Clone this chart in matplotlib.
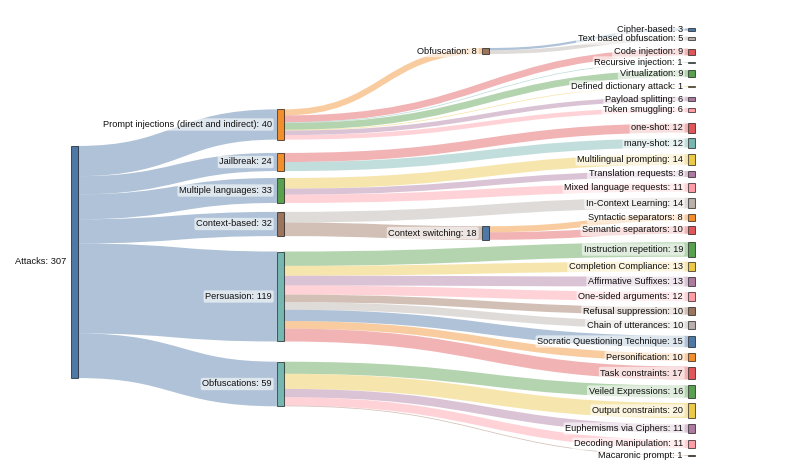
import numpy as np
import matplotlib.pyplot as plt
from matplotlib.path import Path
from matplotlib.patches import PathPatch, Rectangle

plt.rcParams['font.family'] = ['Liberation Sans', 'DejaVu Sans']

# links of the sankey: source, target, value
link_src = (["Attacks"] * 6
            + ["Prompt injections (direct and indirect)"] * 7
            + ["Obfuscation"] * 2
            + ["Jailbreak"] * 2
            + ["Multiple languages"] * 3
            + ["Context-based"] * 2
            + ["Context switching"] * 2
            + ["Persuasion"] * 9
            + ["Obfuscations"] * 5)
link_tgt = ["Prompt injections (direct and indirect)", "Jailbreak", "Multiple languages",
            "Context-based", "Persuasion", "Obfuscations",
            "Obfuscation", "Code injection", "Recursive injection", "Virtualization",
            "Defined dictionary attack", "Payload splitting", "Token smuggling",
            "Cipher-based", "Text based obfuscation",
            "one-shot", "many-shot",
            "Multilingual prompting", "Translation requests", "Mixed language requests",
            "In-Context Learning", "Context switching",
            "Syntactic separators", "Semantic separators",
            "Instruction repetition", "Completion Compliance", "Affirmative Suffixes",
            "One-sided arguments", "Refusal suppression", "Chain of utterances",
            "Socratic Questioning Technique", "Personification", "Task constraints",
            "Veiled Expressions", "Output constraints", "Euphemisms via Ciphers",
            "Decoding Manipulation", "Macaronic prompt"]
link_val = [40, 24, 33, 32, 119, 59,
            8, 9, 1, 9, 1, 6, 6,
            3, 5,
            12, 12,
            14, 8, 11,
            14, 18,
            8, 10,
            19, 13, 13, 12, 10, 10, 15, 10, 17,
            16, 20, 11, 11, 1]

# tableau colours
blue, orange, red, teal, green = '#4e79a7', '#f28e2c', '#e15759', '#76b7b2', '#59a14f'
yellow, purple, pink, brown, grey = '#edc949', '#af7aa1', '#ff9da7', '#9c755f', '#bab0ab'

node_color = {
    "Attacks": blue,
    "Prompt injections (direct and indirect)": orange, "Jailbreak": orange,
    "Multiple languages": green, "Context-based": brown, "Persuasion": teal,
    "Obfuscations": teal, "Obfuscation": brown, "Context switching": blue,
    "Cipher-based": blue, "Text based obfuscation": grey, "Code injection": red,
    "Recursive injection": teal, "Virtualization": green,
    "Defined dictionary attack": yellow, "Payload splitting": purple,
    "Token smuggling": pink, "one-shot": red, "many-shot": teal,
    "Multilingual prompting": yellow, "Translation requests": purple,
    "Mixed language requests": pink, "In-Context Learning": grey,
    "Syntactic separators": orange, "Semantic separators": red,
    "Instruction repetition": green, "Completion Compliance": yellow,
    "Affirmative Suffixes": purple, "One-sided arguments": pink,
    "Refusal suppression": brown, "Chain of utterances": grey,
    "Socratic Questioning Technique": blue, "Personification": orange,
    "Task constraints": red, "Veiled Expressions": green,
    "Output constraints": yellow, "Euphemisms via Ciphers": purple,
    "Decoding Manipulation": pink, "Macaronic prompt": brown,
}

# layout: vertical centre of each node in pixels (as placed by the original layout)
node_center = {
    "Attacks": 262,
    "Prompt injections (direct and indirect)": 124.5, "Jailbreak": 162,
    "Multiple languages": 190.5, "Context-based": 224, "Persuasion": 296.5,
    "Obfuscations": 384,
    "Obfuscation": 51, "Context switching": 233,
    "Cipher-based": 29.5, "Text based obfuscation": 38.5, "Code injection": 52,
    "Recursive injection": 62.5, "Virtualization": 73.5,
    "Defined dictionary attack": 86.5, "Payload splitting": 99,
    "Token smuggling": 110, "one-shot": 128, "many-shot": 143,
    "Multilingual prompting": 159.5, "Translation requests": 174,
    "Mixed language requests": 187.5, "In-Context Learning": 203,
    "Syntactic separators": 217.5, "Semantic separators": 230,
    "Instruction repetition": 249.5, "Completion Compliance": 266.5,
    "Affirmative Suffixes": 281.5, "One-sided arguments": 296.5,
    "Refusal suppression": 311, "Chain of utterances": 325,
    "Socratic Questioning Technique": 341.5, "Personification": 357,
    "Task constraints": 373, "Veiled Expressions": 391.5,
    "Output constraints": 410.5, "Euphemisms via Ciphers": 428.5,
    "Decoding Manipulation": 444, "Macaronic prompt": 455.5,
}

col_x = [71, 277, 482, 688]
node_w = 6.5
ky = 0.756

# node values and columns
names = list(node_center.keys())
val_in = {n: 0 for n in names}
val_out = {n: 0 for n in names}
for s, t, v in zip(link_src, link_tgt, link_val):
    val_out[s] += v
    val_in[t] += v
value = {n: max(val_in[n], val_out[n]) for n in names}

depth = {"Attacks": 0}
changed = True
while changed:
    changed = False
    for s, t in zip(link_src, link_tgt):
        if s in depth and depth.get(t, -1) < depth[s] + 1:
            depth[t] = depth[s] + 1
            changed = True
column = {n: (3 if val_out[n] == 0 else depth[n]) for n in names}

top = {n: node_center[n] - value[n] * ky / 2 for n in names}

fig = plt.figure(figsize=(8, 4.69), dpi=100)
ax = fig.add_axes([0, 0, 1, 1])
ax.set_xlim(0, 800)
ax.set_ylim(469, 0)
ax.axis('off')

# stack links at both ends, ordered by the position of the other node
idx = list(range(len(link_val)))
y_src = {}
y_tgt = {}
for n in names:
    outs = sorted([i for i in idx if link_src[i] == n], key=lambda i: node_center[link_tgt[i]])
    y = top[n]
    for i in outs:
        w = link_val[i] * ky
        y_src[i] = y + w / 2
        y += w
    ins = sorted([i for i in idx if link_tgt[i] == n], key=lambda i: node_center[link_src[i]])
    y = top[n]
    for i in ins:
        w = link_val[i] * ky
        y_tgt[i] = y + w / 2
        y += w

for i in idx:
    s, t = link_src[i], link_tgt[i]
    x0 = col_x[column[s]] + node_w
    x1 = col_x[column[t]]
    xm = (x0 + x1) / 2
    # links into leaves take the leaf colour, the rest take the source colour
    c = node_color[t] if val_out[t] == 0 else node_color[s]
    path = Path([(x0, y_src[i]), (xm, y_src[i]), (xm, y_tgt[i]), (x1, y_tgt[i])],
                [Path.MOVETO, Path.CURVE4, Path.CURVE4, Path.CURVE4])
    ax.add_patch(PathPatch(path, fill=False, edgecolor=c, alpha=0.45,
                           linewidth=link_val[i] * ky * 0.72, capstyle='butt'))

for n in names:
    x = col_x[column[n]]
    ax.add_patch(Rectangle((x, top[n]), node_w, value[n] * ky,
                           facecolor=node_color[n], edgecolor=(0, 0, 0, 0.6), linewidth=0.75))
    ax.text(x - 5, node_center[n], f"{n}: {value[n]}", ha='right', va='center',
            fontsize=6.7, color='#111111',
            bbox=dict(boxstyle='round,pad=0.18,rounding_size=0.2', fc='white', ec='none', alpha=0.6))

fig.savefig('out.png', dpi=100)
